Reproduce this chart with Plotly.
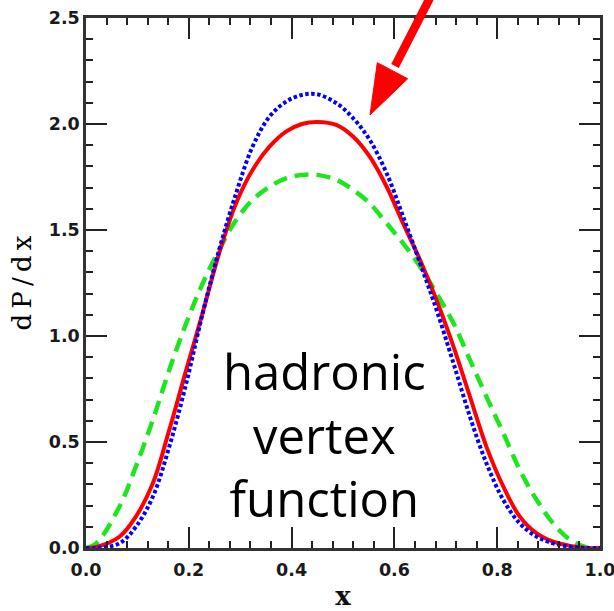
import plotly.graph_objects as go

# ---- data ----
x_vals = [0.0, 0.02, 0.065, 0.097, 0.13, 0.162, 0.195, 0.227, 0.259, 0.292, 0.324,
          0.357, 0.389, 0.42, 0.45, 0.488, 0.52, 0.552, 0.585, 0.617, 0.65, 0.682,
          0.715, 0.747, 0.779, 0.812, 0.844, 0.877, 0.909, 0.942, 0.974, 1.0]

red_solid = [0.0, 0.005, 0.053, 0.148, 0.305, 0.557, 0.84, 1.11, 1.39, 1.626, 1.783,
             1.893, 1.964, 2.0, 2.01, 1.995, 1.94, 1.846, 1.704, 1.531, 1.358, 1.17,
             0.95, 0.714, 0.478, 0.289, 0.148, 0.069, 0.03, 0.01, 0.0, 0.0]

blue_dotted = [0.0, 0.0, 0.022, 0.10, 0.242, 0.478, 0.777, 1.107, 1.406, 1.673, 1.893,
               2.035, 2.105, 2.137, 2.14, 2.097, 2.027, 1.925, 1.767, 1.563, 1.343, 1.123,
               0.871, 0.619, 0.40, 0.226, 0.116, 0.053, 0.022, 0.006, 0.0, 0.0]

green_dashed = [0.0, 0.022, 0.195, 0.384, 0.604, 0.84, 1.06, 1.248, 1.406, 1.547, 1.642,
                1.704, 1.744, 1.76, 1.76, 1.736, 1.689, 1.626, 1.531, 1.437, 1.327, 1.201,
                1.06, 0.887, 0.714, 0.541, 0.368, 0.226, 0.116, 0.038, 0.003, 0.0]

x_ticks = [0.0, 0.2, 0.4, 0.6, 0.8, 1.0]
y_ticks = [0.0, 0.5, 1.0, 1.5, 2.0, 2.5]
text_lines = ["hadronic", "vertex", "function"]

# ---- layout geometry (pixels) ----
W, H = 614, 611
L, R, T, B = 86, 14, 18, 63
PW = W - L - R
PH = H - T - B


def px(x):
    return (x - L) / PW


def py(y):
    return (H - B - y) / PH


fig = go.Figure()
fig.add_trace(go.Scatter(x=x_vals, y=green_dashed, mode="lines", line_shape="spline",
                         line=dict(color="#1ee61e", width=4.5, dash="14px,8px"),
                         showlegend=False))
fig.add_trace(go.Scatter(x=x_vals, y=red_solid, mode="lines", line_shape="spline",
                         line=dict(color="#ff0000", width=4), showlegend=False))
fig.add_trace(go.Scatter(x=x_vals, y=blue_dotted, mode="lines", line_shape="spline",
                         line=dict(color="#0000ff", width=4, dash="3.5px,2.5px"),
                         showlegend=False))

tick_font = dict(family="DejaVu Sans", size=17.5, color="#1a1a1a", weight="bold")
axis_common = dict(showgrid=False, zeroline=False, showline=True, linewidth=2.5,
                   linecolor="#333333", ticks="inside", ticklen=21, tickwidth=1.6,
                   tickcolor="#222222", mirror="allticks", tickfont=tick_font,
                   tickformat=".1f", automargin=False, ticklabeloverflow="allow")

fig.update_xaxes(range=[0, 1], tickvals=x_ticks, ticklabelstandoff=4,
                 minor=dict(ticks="inside", ticklen=7, tickwidth=1.6,
                            tickcolor="#222222", dtick=0.04, tick0=0, showgrid=False),
                 title=dict(text="x", font=dict(family="DejaVu Serif", size=26,
                                                color="#111111", weight="bold"),
                            standoff=14),
                 **axis_common)
fig.update_yaxes(range=[0, 2.5], tickvals=y_ticks,
                 minor=dict(ticks="inside", ticklen=7, tickwidth=1.6,
                            tickcolor="#222222", dtick=0.1, tick0=0, showgrid=False),
                 title=dict(text="d\u2009P\u2009/\u2009d\u2009x",
                            font=dict(family="DejaVu Serif", size=26, color="#000000"),
                            standoff=10),
                 **axis_common)

# text block
fig.add_annotation(text="<br>".join(text_lines), xref="paper", yref="paper",
                   x=px(324), y=py(435), xanchor="center", yanchor="middle",
                   align="center", showarrow=False,
                   font=dict(family="Open Sans", size=49, color="#000000"))

# red arrow (shaft + head), pixel geometry converted to paper coords
fig.add_shape(type="line", xref="paper", yref="paper",
              x0=px(434), y0=py(-10), x1=px(395), y1=py(66),
              line=dict(color="#ff0000", width=8.5))
head = [(377.3, 62.7), (407.7, 78.7), (370, 115)]
path = "M {} {} L {} {} L {} {} Z".format(*[v for p in head for v in (px(p[0]), py(p[1]))])
fig.add_shape(type="path", xref="paper", yref="paper", path=path,
              fillcolor="#ff0000", line=dict(color="#ff0000", width=1))

fig.update_layout(width=W, height=H, margin=dict(l=L, r=R, t=T, b=B, pad=0),
                  paper_bgcolor="white", plot_bgcolor="white")

fig.write_html("out.html")
